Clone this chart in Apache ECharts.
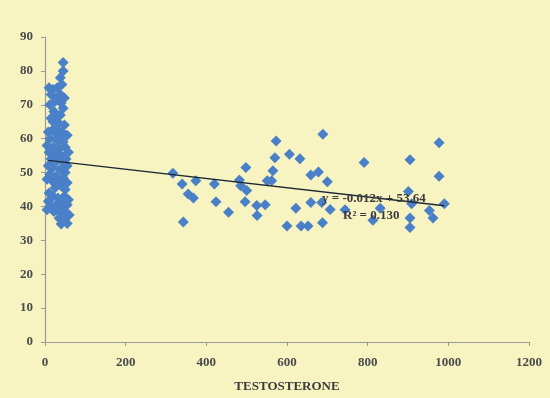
<!DOCTYPE html>
<html lang="en">

<head>
    <meta charset="UTF-8">
    <title>Testosterone scatter</title>
    <script src="https://cdn.jsdelivr.net/npm/echarts/dist/echarts.min.js"></script>
    <style>
        html, body { margin: 0; padding: 0; background: #f8f4c2; }
    </style>
</head>

<body>
    <div id="chart" style="width: 550px; height: 398px;"></div>
    <script>
        // x axis ticks: 0..1200 step 200, y axis: 0..90 step 10
        const xTicks = [0, 200, 400, 600, 800, 1000, 1200];
        const yTicks = [0, 10, 20, 30, 40, 50, 60, 70, 80, 90];

        // low testosterone group (the dense column near 0)
        const lowGroup = [
            [45, 82.5], [45, 80], [42, 76], [10, 75], [20, 74.5], [30, 75], [38, 73], [15, 73],
            [48, 72], [25, 71], [40, 70.5], [12, 70], [45, 69], [22, 68], [30, 66.5], [38, 67],
            [20, 65], [35, 64.5], [48, 64], [25, 63], [8, 62], [18, 62.5], [28, 61.5], [42, 62],
            [55, 61], [33, 60.5], [12, 60], [30, 59.5], [45, 59], [5, 58], [20, 57.5], [35, 57],
            [50, 57.5], [58, 56], [10, 56], [25, 55.5], [40, 55], [52, 54], [15, 54], [30, 53.5],
            [48, 53], [55, 52], [8, 52], [20, 51.5], [38, 51], [50, 50], [12, 49.5], [28, 49],
            [45, 48.5], [5, 48], [18, 47.5], [35, 47], [55, 47], [40, 46], [50, 45], [25, 45.5],
            [10, 44], [20, 43], [32, 42.5], [48, 43], [58, 42], [45, 41], [8, 41.5], [15, 40],
            [28, 40.5], [42, 40], [55, 40.5], [30, 39.5], [5, 39], [22, 38.5], [38, 38], [50, 38.5],
            [60, 37.5], [35, 36.5], [48, 36], [55, 35], [40, 34.8], [38, 78], [28, 72], [15, 66]
        ];

        // higher testosterone group
        const highGroup = [
            [317, 49.8], [340, 46.6], [374, 47.6], [355, 43.7], [368, 42.5], [343, 35.4],
            [420, 46.6], [424, 41.4], [455, 38.3], [498, 51.5], [482, 47.8], [485, 46.1],
            [500, 44.7], [496, 41.4], [525, 40.3], [546, 40.5], [526, 37.3], [573, 59.3],
            [570, 54.4], [606, 55.4], [632, 54.1], [565, 50.5], [551, 47.6], [562, 47.6],
            [689, 61.3], [659, 49.3], [678, 50.2], [700, 47.3], [622, 39.5], [659, 41.2],
            [686, 41.2], [707, 39.1], [600, 34.2], [635, 34.2], [652, 34.2], [688, 35.2],
            [791, 53.0], [905, 53.8], [977, 58.8], [977, 48.9], [901, 44.4], [909, 40.8],
            [990, 40.8], [953, 38.8], [962, 36.6], [905, 36.6], [905, 33.8], [831, 39.5],
            [813, 35.9], [744, 39.0]
        ];

        // trendline end points as drawn
        const trendLine = [[8, 53.6], [990, 40.2]];
        const trendText = ['y = -0.012x + 53.64', 'R² = 0.130'];

        const chart = echarts.init(document.getElementById('chart'));

        const serifBold = {
            fontFamily: 'Liberation Serif',
            fontWeight: 'bold',
            fontSize: 13,
            color: '#4a4a4a'
        };

        chart.setOption({
            backgroundColor: '#f8f4c2',
            animation: false,
            grid: { left: 45, right: 21, top: 37, bottom: 54 },
            xAxis: {
                type: 'value',
                min: xTicks[0],
                max: xTicks[xTicks.length - 1],
                interval: 200,
                name: 'TESTOSTERONE',
                nameLocation: 'middle',
                nameGap: 38,
                nameTextStyle: Object.assign({}, serifBold, { color: '#3a3a3a' }),
                axisLine: { show: true, onZero: false, lineStyle: { color: '#9a9a9a', width: 1.2 } },
                axisTick: { show: true, length: 4, lineStyle: { color: '#9a9a9a' } },
                axisLabel: Object.assign({ margin: 14, formatter: v => String(v) }, serifBold),
                splitLine: { show: false }
            },
            yAxis: {
                type: 'value',
                min: yTicks[0],
                max: yTicks[yTicks.length - 1],
                interval: 10,
                axisLine: { show: true, lineStyle: { color: '#9a9a9a', width: 1.2 } },
                axisTick: { show: true, length: 4, lineStyle: { color: '#9a9a9a' } },
                axisLabel: Object.assign({ margin: 12 }, serifBold),
                splitLine: { show: false }
            },
            series: [
                {
                    type: 'scatter',
                    symbol: 'diamond',
                    symbolSize: 11,
                    itemStyle: { color: '#4a80c8', opacity: 1 },
                    data: lowGroup.concat(highGroup)
                },
                {
                    type: 'line',
                    data: trendLine,
                    symbol: 'none',
                    lineStyle: { color: '#1c2836', width: 1.3 },
                    z: 3
                }
            ],
            graphic: [
                {
                    type: 'text',
                    left: 322,
                    top: 192,
                    z: 10,
                    style: {
                        text: trendText[0],
                        font: 'bold 13px "Liberation Serif"',
                        fill: '#3a3a3a'
                    }
                },
                {
                    type: 'text',
                    left: 343,
                    top: 209,
                    z: 10,
                    style: {
                        text: trendText[1],
                        font: 'bold 13px "Liberation Serif"',
                        fill: '#3a3a3a'
                    }
                }
            ]
        });
    </script>
</body>

</html>
